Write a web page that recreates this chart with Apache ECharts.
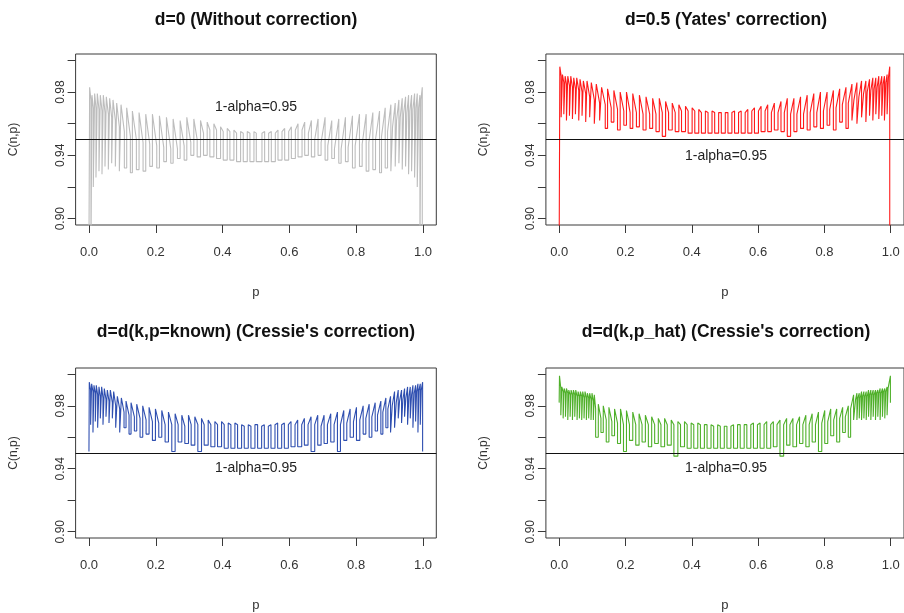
<!DOCTYPE html>
<html>
<head>
<meta charset="utf-8">
<script src="https://cdn.jsdelivr.net/npm/echarts@6/dist/echarts.min.js"></script>
<style>
  html, body { margin: 0; padding: 0; background: #fff; }
  #chart { width: 904px; height: 613px; }
</style>
</head>
<body>
<div id="chart"></div>
<script>
// Coverage probability C(n,p) of the 95% interval, four continuity corrections.
// Each curve is stored as a run of "teeth": the line jumps up at rise[i],
// runs from top[i] to topEnd[i], drops at fall[i] and sits at base[i]
// until the next rise.

const xTicks = [0.0, 0.2, 0.4, 0.6, 0.8, 1.0];
const yTicks = [0.90, 0.92, 0.94, 0.96, 0.98, 1.00];
const yLabels = [0.90, 0.94, 0.98];
const nominal = 0.95;

// d = 0 (no correction)
const greyStart = 0.880;
const greyRise = [0.002,0.009,0.017,0.025,0.034,0.043,0.052,0.062,0.072,0.083,0.096,0.113,0.130,0.150,0.170,0.190,0.211,0.232,0.252,0.273,0.293,0.314,0.334,0.354,0.374,0.394,0.414,0.434,0.454,0.474,0.494,0.518,0.538,0.558,0.578,0.598,0.618,0.638,0.657,0.676,0.695,0.715,0.735,0.755,0.776,0.797,0.818,0.838,0.858,0.876,0.894,0.909,0.921,0.932,0.942,0.952,0.961,0.970,0.979,0.987,0.994];
const greyFall = [0.006,0.013,0.021,0.030,0.039,0.048,0.058,0.068,0.079,0.091,0.106,0.124,0.142,0.162,0.182,0.203,0.224,0.245,0.265,0.285,0.305,0.324,0.343,0.362,0.382,0.402,0.422,0.442,0.462,0.482,0.501,0.526,0.546,0.566,0.586,0.606,0.626,0.646,0.666,0.686,0.707,0.727,0.748,0.768,0.789,0.810,0.830,0.850,0.870,0.887,0.904,0.917,0.928,0.938,0.948,0.957,0.966,0.975,0.983,0.991,0.998];
const greyTop = [0.983,0.978,0.979,0.979,0.978,0.978,0.977,0.976,0.975,0.973,0.972,0.970,0.968,0.967,0.966,0.966,0.965,0.964,0.963,0.962,0.964,0.963,0.962,0.961,0.960,0.958,0.957,0.956,0.955,0.955,0.955,0.954,0.954,0.954,0.955,0.955,0.956,0.956,0.954,0.950,0.948,0.946,0.944,0.944,0.945,0.946,0.947,0.948,0.950,0.952,0.955,0.958,0.962,0.964,0.966,0.967,0.968,0.969,0.970,0.970,0.975];
const greyTopEnd = [0.975,0.970,0.970,0.969,0.968,0.967,0.966,0.964,0.962,0.958,0.955,0.952,0.950,0.948,0.947,0.946,0.945,0.944,0.944,0.946,0.948,0.950,0.954,0.956,0.956,0.955,0.955,0.954,0.954,0.954,0.954,0.955,0.955,0.956,0.957,0.958,0.960,0.961,0.962,0.963,0.964,0.962,0.963,0.964,0.965,0.966,0.966,0.967,0.968,0.970,0.972,0.973,0.975,0.976,0.977,0.978,0.978,0.979,0.979,0.978,0.983];
const greyBase = [0.880,0.920,0.926,0.930,0.928,0.933,0.931,0.935,0.933,0.930,0.932,0.929,0.931,0.930,0.933,0.932,0.936,0.935,0.938,0.937,0.940,0.939,0.940,0.939,0.938,0.937,0.937,0.936,0.936,0.936,0.936,0.936,0.936,0.937,0.937,0.938,0.939,0.940,0.939,0.940,0.937,0.938,0.935,0.936,0.932,0.933,0.930,0.931,0.929,0.932,0.930,0.933,0.935,0.931,0.933,0.928,0.930,0.926,0.920,0.880,0.880];

// d = 0.5 (Yates)
const redStart = 0.880;
const redRise = [0.002,0.010,0.018,0.026,0.035,0.044,0.053,0.063,0.073,0.084,0.097,0.112,0.128,0.146,0.165,0.184,0.203,0.222,0.242,0.262,0.282,0.302,0.321,0.341,0.361,0.381,0.401,0.421,0.441,0.461,0.481,0.501,0.521,0.541,0.561,0.581,0.601,0.621,0.640,0.660,0.679,0.698,0.717,0.737,0.757,0.777,0.797,0.816,0.835,0.854,0.872,0.889,0.904,0.918,0.929,0.940,0.950,0.959,0.968,0.977,0.985,0.993];
const redFall = [0.006,0.014,0.022,0.031,0.040,0.049,0.059,0.069,0.080,0.092,0.106,0.122,0.139,0.157,0.176,0.195,0.214,0.233,0.253,0.273,0.292,0.311,0.330,0.350,0.369,0.389,0.409,0.429,0.449,0.469,0.489,0.509,0.529,0.549,0.569,0.589,0.609,0.629,0.649,0.669,0.688,0.708,0.728,0.748,0.768,0.788,0.808,0.827,0.846,0.865,0.883,0.898,0.912,0.925,0.936,0.946,0.955,0.964,0.973,0.981,0.989,0.997];
const redTop = [0.996,0.991,0.990,0.990,0.990,0.989,0.989,0.988,0.987,0.987,0.986,0.985,0.983,0.982,0.981,0.980,0.980,0.979,0.978,0.977,0.976,0.976,0.974,0.973,0.972,0.971,0.970,0.969,0.968,0.968,0.967,0.967,0.967,0.967,0.967,0.968,0.968,0.968,0.967,0.967,0.967,0.966,0.966,0.966,0.967,0.967,0.968,0.969,0.970,0.972,0.973,0.975,0.977,0.979,0.980,0.981,0.982,0.983,0.984,0.985,0.986,0.989];
const redTopEnd = [0.990,0.986,0.985,0.984,0.983,0.982,0.981,0.980,0.979,0.977,0.975,0.973,0.972,0.970,0.969,0.968,0.967,0.967,0.966,0.966,0.966,0.967,0.967,0.967,0.968,0.968,0.968,0.967,0.967,0.967,0.967,0.967,0.968,0.968,0.969,0.970,0.971,0.972,0.973,0.974,0.976,0.976,0.977,0.978,0.979,0.980,0.980,0.981,0.982,0.983,0.985,0.986,0.987,0.987,0.988,0.989,0.989,0.990,0.990,0.990,0.991,0.996];
const redBase = [0.964,0.966,0.962,0.965,0.963,0.966,0.962,0.965,0.961,0.964,0.960,0.962,0.957,0.961,0.956,0.959,0.957,0.958,0.956,0.957,0.955,0.952,0.956,0.955,0.955,0.954,0.954,0.954,0.954,0.954,0.954,0.954,0.954,0.954,0.954,0.954,0.955,0.955,0.956,0.955,0.952,0.955,0.957,0.956,0.958,0.957,0.959,0.956,0.961,0.957,0.962,0.960,0.964,0.961,0.965,0.962,0.966,0.963,0.965,0.962,0.966,0.880];

// d = d(k, p known) (Cressie)
const blueStart = 0.951;
const blueRise = [0.001,0.008,0.015,0.022,0.030,0.038,0.046,0.055,0.064,0.074,0.085,0.097,0.111,0.126,0.143,0.161,0.180,0.199,0.218,0.238,0.258,0.278,0.298,0.317,0.337,0.357,0.377,0.397,0.417,0.437,0.457,0.477,0.497,0.517,0.537,0.557,0.577,0.597,0.617,0.637,0.656,0.676,0.695,0.714,0.734,0.753,0.772,0.792,0.811,0.829,0.847,0.864,0.880,0.895,0.908,0.920,0.930,0.940,0.949,0.958,0.966,0.974,0.981,0.988,0.995];
const blueFall = [0.005,0.012,0.019,0.026,0.034,0.042,0.051,0.060,0.070,0.080,0.092,0.105,0.120,0.136,0.153,0.171,0.190,0.209,0.228,0.248,0.267,0.287,0.306,0.326,0.345,0.365,0.385,0.405,0.425,0.445,0.465,0.485,0.505,0.525,0.545,0.565,0.585,0.605,0.625,0.645,0.665,0.685,0.704,0.724,0.744,0.763,0.782,0.801,0.821,0.839,0.857,0.874,0.889,0.903,0.915,0.926,0.936,0.945,0.954,0.962,0.970,0.978,0.985,0.992,0.999];
const blueTop = [0.995,0.994,0.993,0.993,0.992,0.992,0.991,0.990,0.990,0.989,0.986,0.985,0.983,0.982,0.981,0.980,0.979,0.978,0.977,0.976,0.975,0.974,0.974,0.973,0.972,0.971,0.970,0.970,0.969,0.969,0.968,0.968,0.968,0.967,0.967,0.968,0.968,0.968,0.968,0.968,0.968,0.968,0.967,0.968,0.968,0.968,0.969,0.970,0.971,0.972,0.973,0.974,0.976,0.978,0.980,0.982,0.983,0.984,0.985,0.986,0.987,0.988,0.989,0.990,0.990];
const blueTopEnd = [0.990,0.989,0.988,0.987,0.986,0.985,0.984,0.983,0.982,0.980,0.978,0.976,0.974,0.973,0.972,0.971,0.970,0.969,0.968,0.968,0.968,0.967,0.968,0.968,0.968,0.968,0.968,0.968,0.968,0.968,0.967,0.967,0.968,0.968,0.968,0.969,0.969,0.970,0.971,0.972,0.973,0.974,0.974,0.975,0.976,0.977,0.978,0.979,0.980,0.981,0.982,0.983,0.985,0.986,0.989,0.990,0.990,0.991,0.992,0.992,0.993,0.993,0.994,0.994,0.995];
const blueBase = [0.968,0.963,0.970,0.966,0.972,0.968,0.973,0.969,0.972,0.966,0.963,0.966,0.962,0.964,0.960,0.962,0.958,0.960,0.957,0.951,0.957,0.956,0.955,0.951,0.955,0.954,0.954,0.953,0.953,0.953,0.953,0.953,0.953,0.953,0.953,0.953,0.953,0.954,0.954,0.955,0.951,0.955,0.956,0.957,0.951,0.958,0.960,0.958,0.962,0.960,0.964,0.962,0.966,0.963,0.966,0.972,0.969,0.973,0.968,0.972,0.966,0.970,0.963,0.968,0.951];

// d = d(k, p_hat) (Cressie)
const greenStart = 0.982;
const greenRise = [0.001,0.008,0.015,0.022,0.029,0.036,0.043,0.050,0.057,0.064,0.071,0.078,0.085,0.092,0.099,0.106,0.118,0.133,0.150,0.167,0.185,0.203,0.222,0.241,0.260,0.279,0.299,0.318,0.338,0.358,0.378,0.398,0.418,0.438,0.458,0.478,0.498,0.518,0.538,0.558,0.578,0.598,0.618,0.638,0.657,0.677,0.696,0.716,0.735,0.754,0.773,0.792,0.810,0.828,0.846,0.863,0.879,0.894,0.901,0.908,0.915,0.922,0.929,0.936,0.943,0.950,0.957,0.964,0.971,0.978,0.985,0.992];
const greenFall = [0.005,0.012,0.019,0.026,0.033,0.040,0.047,0.054,0.061,0.068,0.075,0.082,0.089,0.096,0.103,0.110,0.126,0.142,0.159,0.176,0.194,0.212,0.231,0.250,0.269,0.288,0.307,0.326,0.346,0.366,0.386,0.406,0.426,0.446,0.466,0.486,0.506,0.526,0.546,0.566,0.586,0.606,0.626,0.646,0.666,0.686,0.705,0.725,0.744,0.763,0.782,0.801,0.819,0.837,0.855,0.872,0.888,0.898,0.905,0.912,0.919,0.926,0.933,0.940,0.947,0.954,0.961,0.968,0.975,0.982,0.989,0.999];
const greenTop = [0.999,0.992,0.991,0.991,0.990,0.990,0.990,0.990,0.989,0.989,0.989,0.989,0.988,0.988,0.988,0.987,0.981,0.980,0.979,0.978,0.978,0.977,0.976,0.975,0.974,0.973,0.972,0.972,0.971,0.970,0.970,0.969,0.969,0.968,0.968,0.968,0.967,0.967,0.968,0.968,0.968,0.968,0.968,0.968,0.968,0.968,0.968,0.968,0.968,0.968,0.968,0.969,0.970,0.971,0.972,0.973,0.978,0.984,0.985,0.985,0.986,0.986,0.986,0.987,0.987,0.987,0.988,0.988,0.988,0.989,0.989,0.991];
const greenTopEnd = [0.991,0.989,0.988,0.988,0.987,0.987,0.987,0.986,0.986,0.986,0.985,0.985,0.985,0.984,0.983,0.978,0.972,0.971,0.970,0.969,0.968,0.968,0.968,0.968,0.968,0.968,0.968,0.968,0.968,0.968,0.968,0.968,0.968,0.968,0.967,0.967,0.967,0.968,0.968,0.968,0.969,0.969,0.970,0.970,0.971,0.972,0.972,0.973,0.974,0.975,0.976,0.977,0.978,0.978,0.979,0.980,0.987,0.988,0.988,0.989,0.989,0.989,0.990,0.990,0.990,0.990,0.990,0.991,0.991,0.991,0.992,0.999];
const greenBase = [0.974,0.972,0.973,0.971,0.973,0.971,0.973,0.971,0.972,0.971,0.972,0.971,0.972,0.971,0.971,0.960,0.963,0.957,0.961,0.956,0.951,0.958,0.955,0.957,0.954,0.956,0.954,0.955,0.948,0.954,0.953,0.953,0.953,0.953,0.953,0.953,0.953,0.953,0.953,0.953,0.953,0.953,0.953,0.954,0.948,0.955,0.954,0.956,0.954,0.957,0.951,0.956,0.961,0.957,0.963,0.960,0.971,0.971,0.972,0.971,0.972,0.971,0.973,0.971,0.973,0.971,0.973,0.971,0.973,0.972,0.974,0.982];

// Turn a run of teeth into the vertices of one polyline.
function teethPath(start, rise, fall, top, topEnd, base) {
  const pts = [[0, start]];
  let level = start;
  for (let i = 0; i < rise.length; i++) {
    pts.push([rise[i], level], [rise[i], top[i]], [fall[i], topEnd[i]], [fall[i], base[i]]);
    level = base[i];
  }
  pts.push([1, level]);
  return pts;
}

const panels = [
  { title: 'd=0 (Without correction)', color: '#bdbdbd',
    data: teethPath(greyStart, greyRise, greyFall, greyTop, greyTopEnd, greyBase) },
  { title: "d=0.5 (Yates' correction)", color: '#ff1a1a',
    data: teethPath(redStart, redRise, redFall, redTop, redTopEnd, redBase) },
  { title: "d=d(k,p=known) (Cressie's correction)", color: '#2f4fb0',
    data: teethPath(blueStart, blueRise, blueFall, blueTop, blueTopEnd, blueBase) },
  { title: "d=d(k,p_hat) (Cressie's correction)", color: '#4fb02a',
    data: teethPath(greenStart, greenRise, greenFall, greenTop, greenTopEnd, greenBase) }
];

// Plot regions (px) of the 2 x 2 layout
const boxes = [
  { left: 75.6, top: 54, cx: 256, titleY: 20, noteY: 107 },
  { left: 545.9, top: 54, cx: 726, titleY: 20, noteY: 156 },
  { left: 75.6, top: 368, cx: 256, titleY: 332, noteY: 468 },
  { left: 545.9, top: 368, cx: 726, titleY: 332, noteY: 468 }
];
const boxW = 360.7, boxH = 171;
const font = 'Liberation Sans, Arial, Helvetica, sans-serif';

const option = {
  animation: false,
  backgroundColor: '#ffffff',
  grid: boxes.map(b => ({
    left: b.left, top: b.top, width: boxW, height: boxH,
    show: true, borderColor: '#3a3a3a', borderWidth: 1, backgroundColor: 'transparent',
    containLabel: false
  })),
  xAxis: boxes.map((b, i) => ({
    type: 'value', gridIndex: i, min: -0.04, max: 1.04,
    name: 'p', nameLocation: 'middle', nameGap: 61, nameMoveOverlap: false,
    nameTextStyle: { fontFamily: font, fontSize: 13, color: '#333' },
    axisLine: { show: false, onZero: false },
    axisTick: { show: true, inside: false, length: 8, customValues: xTicks,
      lineStyle: { color: '#3a3a3a', width: 1 } },
    axisLabel: { customValues: xTicks, margin: 21, fontFamily: font, fontSize: 13, color: '#333',
      formatter: v => v.toFixed(1) },
    splitLine: { show: false }
  })),
  yAxis: boxes.map((b, i) => ({
    type: 'value', gridIndex: i, min: 0.896, max: 1.004,
    name: 'C(n,p)', nameLocation: 'middle', nameGap: 56, nameRotate: 90, nameMoveOverlap: false,
    nameTextStyle: { fontFamily: font, fontSize: 12, color: '#333' },
    axisLine: { show: false, onZero: false },
    axisTick: { show: true, inside: false, length: 8, customValues: yTicks,
      lineStyle: { color: '#3a3a3a', width: 1 } },
    axisLabel: { customValues: yLabels, rotate: 90, margin: 9, fontFamily: font, fontSize: 12, color: '#333',
      formatter: v => v.toFixed(2) },
    splitLine: { show: false }
  })),
  series: panels.map((p, i) => ({
    type: 'line', xAxisIndex: i, yAxisIndex: i,
    data: p.data, showSymbol: false, symbol: 'none', clip: true,
    lineStyle: { color: p.color, width: 1.1 },
    markLine: {
      silent: true, symbol: 'none', animation: false,
      label: { show: false },
      lineStyle: { color: '#111', width: 1, type: 'solid' },
      data: [{ yAxis: nominal }]
    }
  })),
  graphic: panels.flatMap((p, i) => [
    { type: 'text', x: boxes[i].cx, y: boxes[i].titleY,
      style: { text: p.title, fill: '#111', font: 'bold 17.5px ' + font,
        textAlign: 'center', textVerticalAlign: 'middle' } },
    { type: 'text', x: boxes[i].cx, y: boxes[i].noteY,
      style: { text: '1-alpha=' + nominal.toFixed(2), fill: '#222', font: '14px ' + font,
        textAlign: 'center', textVerticalAlign: 'middle' } }
  ])
};

const chart = echarts.init(document.getElementById('chart'), null, { renderer: 'canvas' });
chart.setOption(option);
</script>
</body>
</html>
